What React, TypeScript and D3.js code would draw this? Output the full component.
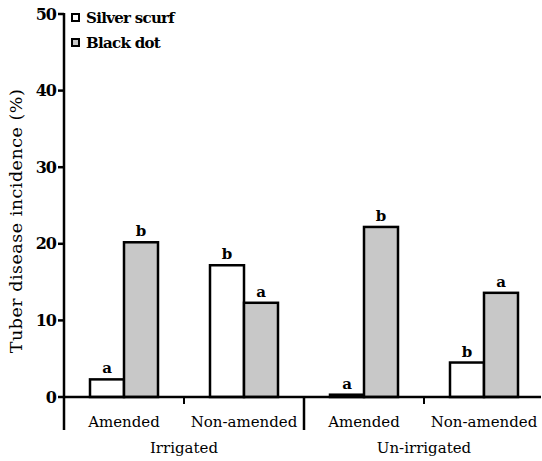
import React from "react";
import * as d3 from "d3";

const categories = ["Amended", "Non-amended", "Amended", "Non-amended"];
const groups = ["Irrigated", "Un-irrigated"];
const series = ["Silver scurf", "Black dot"];
const silverScurf = [2.3, 17.2, 0.3, 4.5];
const blackDot = [20.2, 12.3, 22.2, 13.6];
const silverLetters = ["a", "b", "a", "b"];
const blackLetters = ["b", "a", "b", "a"];
const yTicks = [0, 10, 20, 30, 40, 50];
const colors = ["#ffffff", "#c8c8c8"];

const W = 542, H = 461;
const left = 64, top = 14, bottom = 397, right = 544;
const font = "'DejaVu Serif', serif";

export default function App() {
  const y = d3.scaleLinear().domain([0, 50]).range([bottom, top]);
  const x0 = d3.scaleBand<number>().domain(d3.range(categories.length)).range([left, right]).padding(0);
  const x1 = d3.scaleBand<number>().domain([0, 1]).range([26, x0.bandwidth() - 26]).padding(0);
  const values = [silverScurf, blackDot];
  const letters = [silverLetters, blackLetters];
  const groupX = d3.scaleBand<number>().domain([0, 1]).range([left, right]);
  return (
    <svg width={W} height={H} style={{ position: "absolute", left: 0, top: 0, background: "#fff", fontFamily: font }}>
      {categories.map((c, i) =>
        series.map((s, j) => {
          const v = values[j][i];
          const bx = (x0(i) as number) + (x1(j) as number);
          return (
            <g key={`${i}-${j}`}>
              <rect x={bx} y={y(v)} width={x1.bandwidth()} height={y(0) - y(v)} fill={colors[j]} stroke="#000" strokeWidth={2.5} />
              <text x={bx + x1.bandwidth() / 2} y={y(v) - 6} textAnchor="middle" fontSize={15} fontWeight="bold">{letters[j][i]}</text>
            </g>
          );
        })
      )}
      <line x1={left} x2={left} y1={top - 1} y2={430} stroke="#000" strokeWidth={2.5} />
      {yTicks.map((t) => (
        <g key={t}>
          <line x1={left - 6} x2={left} y1={y(t)} y2={y(t)} stroke="#000" strokeWidth={2.5} />
          <text x={left - 8} y={y(t)} dy="0.35em" textAnchor="end" fontSize={16} fontWeight="bold" letterSpacing={-1}>{t}</text>
        </g>
      ))}
      <line x1={left} x2={541} y1={bottom} y2={bottom} stroke="#000" strokeWidth={2.5} />
      <line x1={groupX(1)} x2={groupX(1)} y1={bottom} y2={430} stroke="#000" strokeWidth={2.5} />
      {groups.map((g, k) => {
        const cx = (groupX(k) as number) + groupX.bandwidth() / 2;
        return (
          <g key={g}>
            <line x1={cx} x2={cx} y1={bottom} y2={bottom + 7} stroke="#000" strokeWidth={2} />
            <text x={cx} y={453} textAnchor="middle" fontSize={15}>{g}</text>
          </g>
        );
      })}
      {categories.map((c, i) => (
        <text key={i} x={(x0(i) as number) + x0.bandwidth() / 2} y={427} textAnchor="middle" fontSize={15}>{c}</text>
      ))}
      <text transform={`translate(22, 221) rotate(-90)`} textAnchor="middle" fontSize={17.5} letterSpacing={0.5}>Tuber disease incidence (%)</text>
      {series.map((s, j) => (
        <g key={s}>
          <rect x={72} y={14 + j * 25} width={7} height={7} fill={colors[j]} stroke="#000" strokeWidth={2} />
          <text x={86} y={23 + j * 25} fontSize={15} fontWeight="bold" letterSpacing={-0.7}>{s}</text>
        </g>
      ))}
    </svg>
  );
}
